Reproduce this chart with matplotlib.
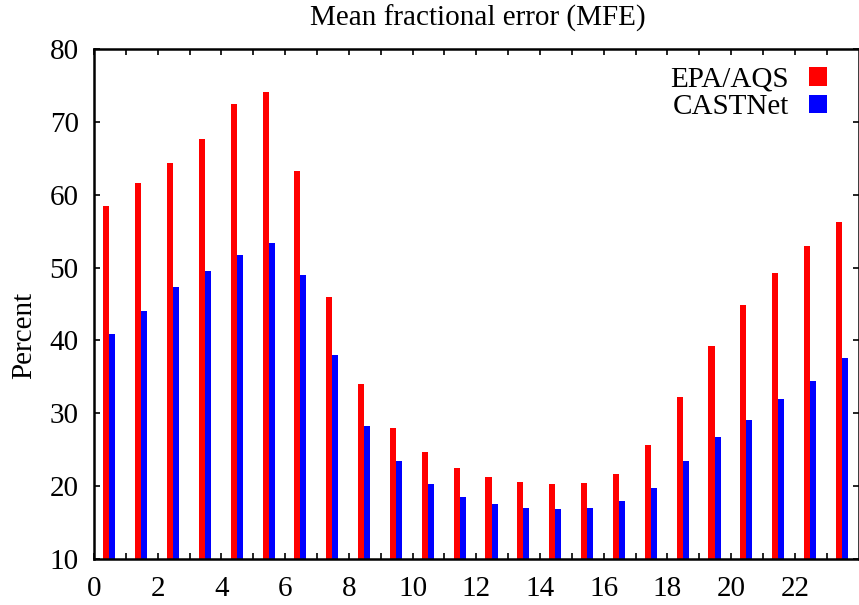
import numpy as np
import matplotlib.pyplot as plt

hours = np.arange(24)
epa_aqs = [58.4, 61.6, 64.3, 67.6, 72.4, 74.1, 63.3, 45.9, 34.0, 28.0, 24.7, 22.5,
           21.3, 20.6, 20.3, 20.5, 21.7, 25.6, 32.2, 39.2, 44.8, 49.3, 53.0, 56.3]
castnet = [40.9, 44.0, 47.3, 49.5, 51.7, 53.4, 49.0, 38.0, 28.2, 23.4, 20.3, 18.5,
           17.6, 17.0, 16.9, 17.0, 17.9, 19.8, 23.5, 26.7, 29.1, 31.9, 34.4, 37.6]

plt.rcParams['font.family'] = ['Liberation Serif', 'DejaVu Serif']

fig = plt.figure(figsize=(8.59, 6.05), dpi=100)
ax = fig.add_axes([94 / 859, 1 - 559 / 605, (858.5 - 94) / 859, (559 - 49) / 605])

w = 0.19
ax.bar(hours + 0.29, np.array(epa_aqs) - 10, bottom=10, width=w, align='edge',
       color='#ff0000', label='EPA/AQS')
ax.bar(hours + 0.29 + w, np.array(castnet) - 10, bottom=10, width=w, align='edge',
       color='#0000ff', label='CASTNet')

ax.set_xlim(0, 24)
ax.set_ylim(10, 80)
ax.set_xticks(np.arange(0, 24, 2))
ax.set_xticks(np.arange(0, 24, 1), minor=True)
ax.set_yticks(np.arange(10, 81, 10))
ax.tick_params(which='both', direction='in', top=True, right=True, length=4,
               width=1.2, labelsize=21)
ax.tick_params(axis='x', pad=12)
ax.tick_params(axis='y', pad=11)
for s in ax.spines.values():
    s.set_linewidth(1.8)

fig.text(478 / 859, 1 - 18 / 605, 'Mean fractional error (MFE)', fontsize=21,
         ha='center', va='center')
fig.text(24 / 859, 1 - 335 / 605, 'Percent', fontsize=21, rotation=90,
         ha='center', va='center')

ax.legend(loc='upper right', frameon=False, markerfirst=False, fontsize=21,
          handlelength=0.6, handleheight=0.6, handletextpad=0.7, labelspacing=0.05,
          borderaxespad=0.3, bbox_to_anchor=(0.985, 1.005))

fig.savefig('out.png', dpi=100)
